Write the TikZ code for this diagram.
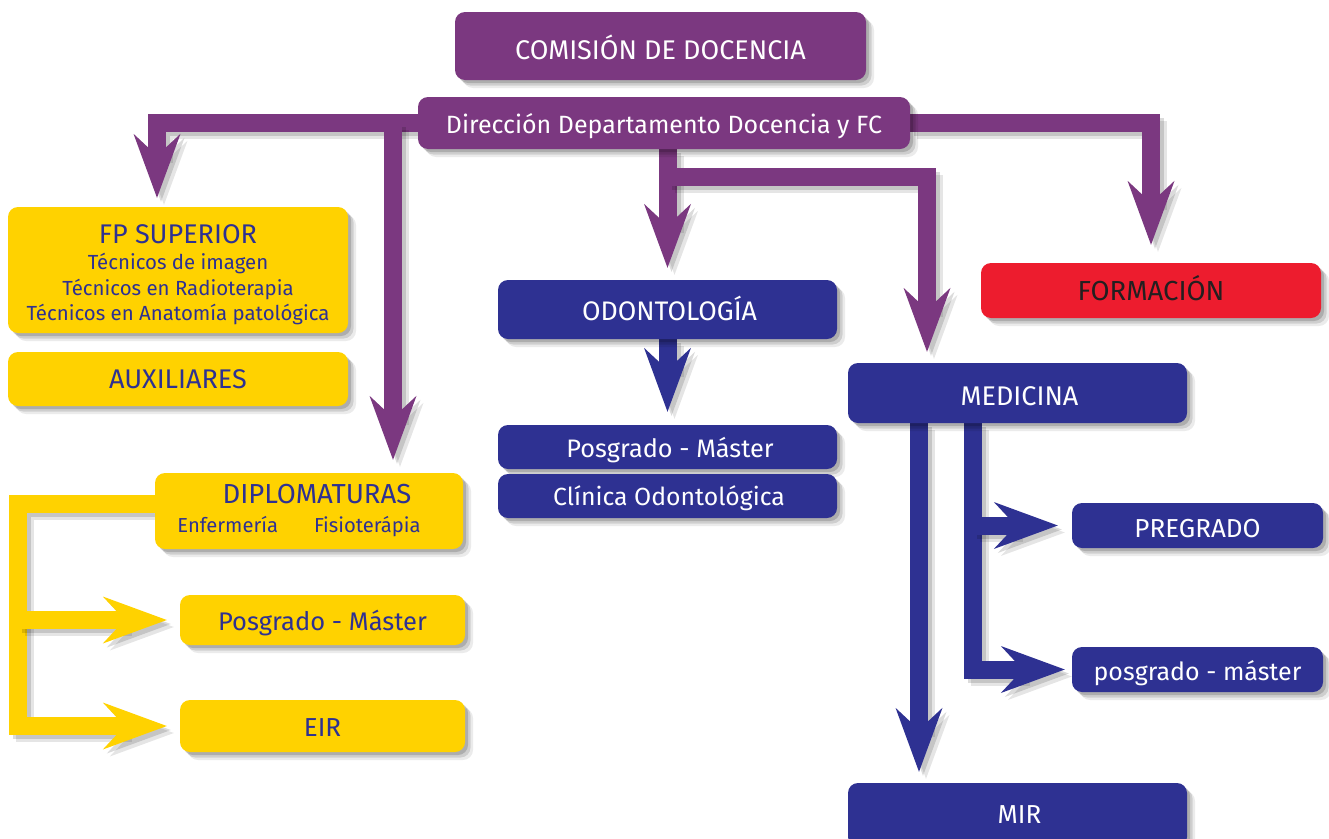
\documentclass[tikz,border=0pt]{standalone}
\usepackage{fontspec}
\IfFontExistsTF{FiraSans-Medium.otf}
  {\setmainfont{FiraSans-Medium.otf}}
  {\setmainfont{Fira Sans}}
\usetikzlibrary{arrows.meta,shadows}
\definecolor{cpurple}{RGB}{123,56,128}
\definecolor{cyellow}{RGB}{255,210,0}
\definecolor{cblue}{RGB}{46,49,146}
\definecolor{cred}{RGB}{237,28,46}
\definecolor{cdark}{RGB}{35,31,32}
\pgfdeclarelayer{bg}
\pgfsetlayers{bg,main}
\newcommand\orgconn[2]{%
  \draw[conn,draw=black,opacity=.10,transform canvas={shift={(7pt,-7pt)}}] #2;
  \draw[conn,draw=black,opacity=.14,transform canvas={shift={(4pt,-4pt)}}] #2;
  \draw[conn,draw=#1] #2;}
\tikzset{
  softshadow/.style={
    drop shadow={shadow xshift=8pt,shadow yshift=-8pt,fill=black,opacity=.08},
    drop shadow={shadow xshift=5.5pt,shadow yshift=-5.5pt,fill=black,opacity=.12},
    drop shadow={shadow xshift=3pt,shadow yshift=-3pt,fill=black,opacity=.16}},
  box/.style={rounded corners=10pt, inner sep=0pt, align=center, softshadow,
    font=\fontsize{26}{30}\selectfont},
  wh/.style 2 args={minimum width=#1pt, minimum height=#2pt},
  tl/.style={text height=#1pt, text depth=0pt},
  fs/.style={font=\fontsize{#1}{30}\selectfont},
  pbox/.style={box, fill=cpurple, text=white},
  ybox/.style={box, fill=cyellow, text=cblue},
  bbox/.style={box, fill=cblue, text=white},
  rbox/.style={box, fill=cred, text=cdark},
  conn/.style={line width=18pt, line join=miter,
    -{Stealth[length=64pt,width=47pt,inset=22pt,line width=0pt]}},
}
\begin{document}
\begin{tikzpicture}[x=1pt,y=-1pt]
\useasboundingbox (0,0) rectangle (1329,838);
% boxes
\node[pbox, wh={411}{68}, tl=26, fs=27] (com) at (660.5,46) {COMISIÓN DE DOCENCIA};
\node[pbox, wh={492}{52}, tl=20, fs=25] (dir) at (664,123) {Dirección Departamento Docencia y FC};
\node[ybox, wh={340}{126}, font=\fontsize{20.4}{25.7}\selectfont] (fp) at (178,270)
  {\rule{0pt}{29pt}{\fontsize{27}{30}\selectfont FP SUPERIOR}\\Técnicos de imagen\\Técnicos en Radioterapia\\Técnicos en Anatomía patológica};
\node[ybox, wh={340}{54}, tl=18, fs=27] (aux) at (178,379) {AUXILIARES};
\node[ybox, wh={308}{76}, font=\fontsize{20.2}{29}\selectfont] (dip) at (309,511)
  {\hspace*{16pt}{\fontsize{27.5}{30}\selectfont DIPLOMATURAS}\\Enfermería\hspace{36pt}Fisioterápia\hspace*{20pt}};
\node[ybox, wh={285}{50}, tl=20, fs=25.5] (ypos) at (322.5,620) {Posgrado - Máster};
\node[ybox, wh={285}{52}, tl=20] (eir) at (322.5,726) {EIR};
\node[bbox, wh={339}{59}, tl=21, fs=26.8] (odo) at (667.5,309.5) {\hspace*{4pt}ODONTOLOGÍA};
\node[bbox, wh={339}{44}, tl=20, fs=25.3] (opos) at (667.5,447) {\hspace*{5pt}Posgrado - Máster};
\node[bbox, wh={339}{44}, tl=18, fs=24.8] (clin) at (667.5,496) {\hspace*{3pt}Clínica Odontológica};
\node[rbox, wh={340}{55}, tl=19, fs=27.5] (form) at (1151,290.5) {FORMACIÓN};
\node[bbox, wh={339}{60}, tl=24, fs=27] (med) at (1017.5,393) {\hspace*{4pt}MEDICINA};
\node[bbox, wh={251}{45}, tl=23] (preg) at (1197.5,525.5) {PREGRADO};
\node[bbox, wh={251}{45}, tl=21, fs=25] (mpos) at (1197.5,669.5) {posgrado - máster};
\node[bbox, wh={339}{64}, tl=16] (mir) at (1017.5,815) {\hspace*{4pt}MIR};
% junction coordinates
\coordinate (c2) at ([shift={(84,0)}]dip.north);
\coordinate (jO) at (667.5,177);
\coordinate (mx) at ([shift={(-45,0)}]med.south);
\coordinate (yL) at (18,504);
\begin{pgfonlayer}{bg}
\orgconn{cpurple}{(dir.west) -| ([shift={(-21,-9)}]fp.north)}
\orgconn{cpurple}{(c2 |- dir.west) -- ([shift={(84,-13)}]dip.north)}
\orgconn{cpurple}{(dir.east) -| ([shift={(0,-18)}]form.north)}
\orgconn{cpurple}{(odo.north |- dir.south) -- ([shift={(0,-12)}]odo.north)}
\orgconn{cpurple}{(jO) -| ([shift={(-90.5,-11)}]med.north)}
\orgconn{cblue}{(odo.south) -- ([shift={(0,-13)}]opos.north)}
\orgconn{cblue}{([shift={(-98.5,0)}]med.south) -- ([shift={(-98.5,-11)}]mir.north)}
\orgconn{cblue}{(mx) |- ([shift={(-7,0)}]mpos.west)}
\orgconn{cblue}{(mx |- preg.west) -- ([shift={(-14,0)}]preg.west)}
\orgconn{cyellow}{([shift={(0,-7)}]dip.west) -| (yL |- eir.west) -- ([shift={(-13,0)}]eir.west)}
\orgconn{cyellow}{(yL |- ypos.west) -- ([shift={(-13,0)}]ypos.west)}
\end{pgfonlayer}
\end{tikzpicture}
\end{document}
